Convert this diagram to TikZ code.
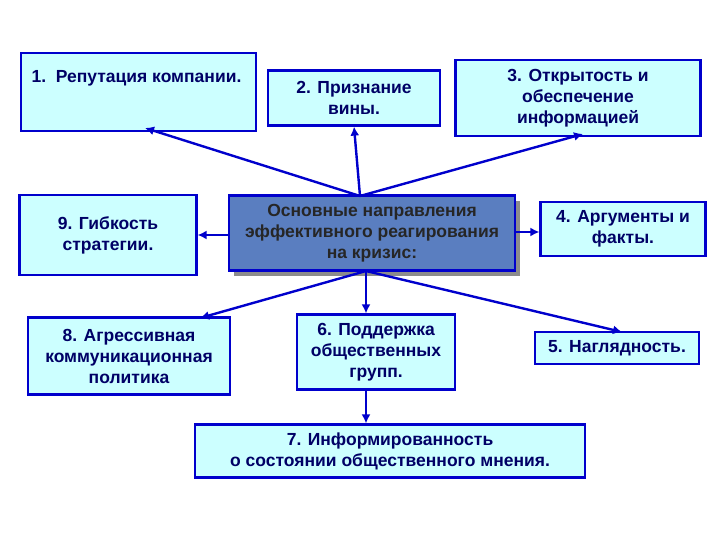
\documentclass[tikz,border=0pt]{standalone}
\usepackage{fontspec}
\usetikzlibrary{arrows.meta}
\setmainfont{Liberation Sans}
\definecolor{bfill}{HTML}{CCFFFF}
\definecolor{bdraw}{HTML}{0000CC}
\definecolor{btext}{HTML}{000066}
\definecolor{cfill}{HTML}{5A7EC0}
\begin{document}
\begin{tikzpicture}[x=1pt,y=-1pt,
  bx/.style={draw=bdraw,line width=2.2pt,fill=bfill,text=btext,font=\bfseries\fontsize{17.5}{21}\selectfont,align=center,inner sep=0pt},
  ar/.style={draw=bdraw,line width=2.4pt,-{Latex[length=9pt,width=9pt]}}]
\useasboundingbox (0,0) rectangle (720,540);
\fill[white] (0,0) rectangle (720,540);
\node[bx,minimum width=235,minimum height=78,anchor=north west] (b1) at (20,52) {};
\node[font=\bfseries\fontsize{17.5}{21}\selectfont,text=btext,anchor=west] (t1) at (28,78) {1.\ \ Репутация компании.};
\node[bx,minimum width=172,minimum height=55] (b2) at (354,98) {2. Признание\\вины.};
\node[bx,minimum width=245,minimum height=76] (b3) at (578,98) {3. Открытость и\\обеспечение\\информацией};
\fill[black!45] (234,201) rectangle (520,276);
\node[bx,fill=cfill,text=black!85,minimum width=286,minimum height=75] (c) at (372,233) {Основные направления\\эффективного реагирования\\на кризис:};
\node[bx,minimum width=177,minimum height=80] (b9) at (108,235) {9. Гибкость\\стратегии.};
\node[bx,minimum width=165,minimum height=54] (b4) at (623,229) {4. Аргументы и\\факты.};
\node[bx,minimum width=202,minimum height=77] (b8) at (129,356) {8. Агрессивная\\коммуникационная\\политика};
\node[bx,minimum width=158,minimum height=75] (b6) at (376,352) {6. Поддержка\\общественных\\групп.};
\node[bx,minimum width=164,minimum height=32] (b5) at (617,348) {5. Наглядность.};
\node[bx,minimum width=390,minimum height=53] (b7) at (390,451) {7. Информированность\\о состоянии общественного мнения.};
\coordinate (ct) at (360,196);
\coordinate (cb) at (366,271);
\draw[ar] (ct) -- (145,128);
\draw[ar] (ct) -- (b2.south);
\draw[ar] (ct) -- (583,134);
\draw[ar] (c.west|-0,235) -- (b9.east|-0,235);
\draw[ar] (c.east|-0,232) -- (b4.west|-0,232);
\draw[ar] (cb) -- (200,318);
\draw[ar] (cb) -- (cb|-b6.north);
\draw[ar] (cb) -- (622,332);
\draw[ar] (b6.south-|cb) -- (cb|-b7.north);
\end{tikzpicture}
\end{document}
